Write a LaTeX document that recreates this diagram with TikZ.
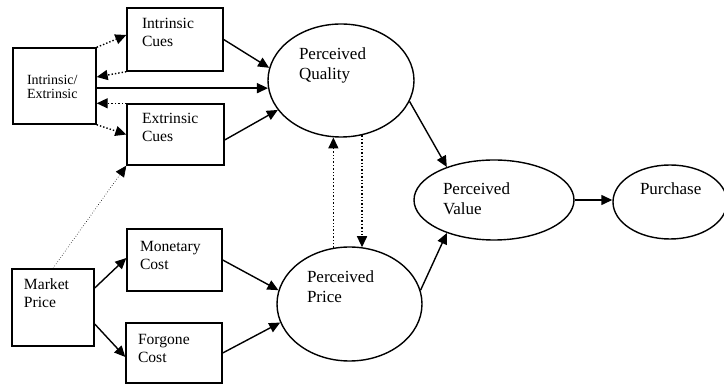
\documentclass[tikz,border=0pt]{standalone}
\usepackage{fontspec}
\setmainfont{Liberation Serif}
\usetikzlibrary{arrows.meta,shapes.geometric}

\begin{document}
\begin{tikzpicture}[x=0.5pt, y=-0.5pt, line width=0.7pt,
    box/.style={draw, rectangle, inner sep=0pt, align=left, text height=6pt, font=\fontsize{7.8}{9}\selectfont},
    oval/.style={draw, ellipse, inner sep=0pt, align=left, text height=6pt, font=\fontsize{8.5}{10}\selectfont},
    arr/.style={-{Triangle[length=5.5pt,width=5pt]}},
    dotarr/.style={arr, densely dotted}]
      \useasboundingbox (0,0) rectangle (724,384);

      % cues and costs
      \node[box, name=ie, minimum width=41.5pt, minimum height=38pt, text width=27.5pt, text depth=7pt, font=\fontsize{7}{7}\selectfont] at (54.5,86) {Intrinsic/\\Extrinsic};
      \node[box, name=ic, minimum width=48pt, minimum height=31.5pt, text width=33pt, text depth=16.5pt] at (175,39.5) {Intrinsic\\Cues};
      \node[box, name=ec, minimum width=48.5pt, minimum height=30.5pt, text width=33.5pt, text depth=16.5pt] at (175.5,134.5) {Extrinsic\\Cues};
      \node[box, name=mp, minimum width=41pt, minimum height=38.5pt, text width=29pt, text depth=23.5pt] at (53,307.5) {Market\\Price};
      \node[box, name=mc, minimum width=47.5pt, minimum height=31pt, text width=34.5pt, text depth=14pt] at (174.5,260) {Monetary\\Cost};
      \node[box, name=fc, minimum width=48pt, minimum height=30pt, text width=36pt, text depth=14pt] at (174,353) {Forgone\\Cost};

      % perceptions
      \node[oval, name=pq, minimum width=73pt, minimum height=56.5pt, text width=42pt, text depth=26.5pt] at (341,80.5) {Perceived\\Quality};
      \node[oval, name=pp, minimum width=72.5pt, minimum height=57pt, text width=42.5pt, text depth=27pt] at (349.5,304) {Perceived\\Price};
      \node[oval, name=pv, minimum width=80pt, minimum height=40pt, text width=51pt, text depth=11pt] at (494,200) {Perceived\\Value};
      \node[oval, name=pu, minimum width=57pt, minimum height=37pt, text width=30pt, text depth=13pt] at (670,202) {Purchase};

      \path[arr]
         (ic.east) edge (pq.170)
         (ie.east |- pq.186) edge (pq.186)
         ([shift={(0,5.5)}]ec.east) edge (pq.205)
         ([shift={(0,-19.5)}]mp.east) edge ([shift={(0,-2)}]mc.west)
         ([shift={(0,16.5)}]mp.east) edge ([shift={(0,4)}]fc.west)
         (mc.east) edge (pp.169)
         (fc.east) edge (pp.195)
         (pq.-17) edge (pv.145)
         (pp.11) edge (pv.215)
         (pv.east) edge (pu.west |- pv.east);

      \path[dotarr]
         (ie.north east) edge ([shift={(0,-4.5)}]ic.west)
         (ic.south west) edge ([shift={(0,-9)}]ie.east)
         (ec.north west) edge (ie.east |- ec.north west)
         (ie.south east) edge (ec.west)
         (pp.106) edge (pp.106 |- pq.263)
         (pq.291) edge (pq.291 |- pp.77);
      \path[dotarr, line width=0.3pt] (mp.north) edge (ec.south west);
   \end{tikzpicture}
\end{document}
